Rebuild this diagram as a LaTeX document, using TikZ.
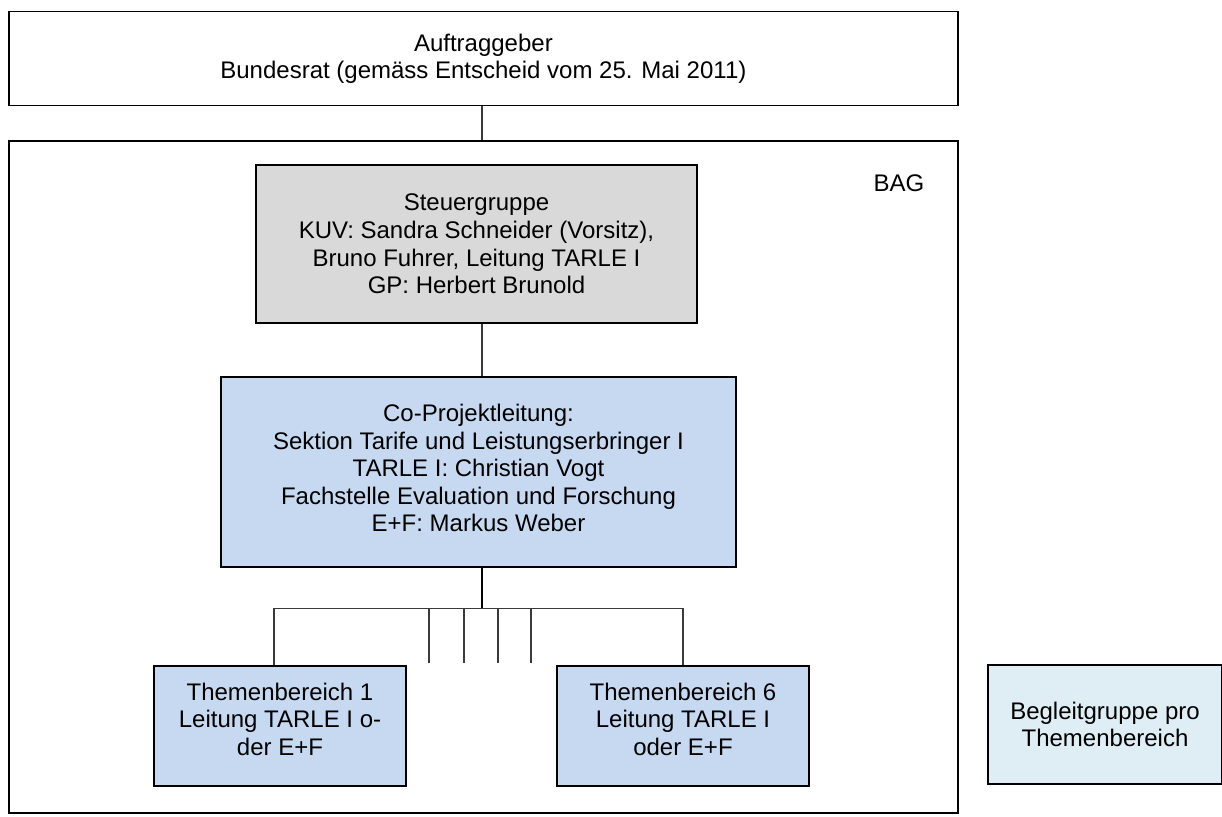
\documentclass[tikz,border=0pt]{standalone}
\usepackage{fontspec}
\setmainfont{Liberation Sans}
\usepackage{xcolor}
\definecolor{grau}{HTML}{D9D9D9}
\definecolor{hellblau}{HTML}{C6D9F1}
\definecolor{eisblau}{HTML}{DFEEF4}
\definecolor{strich}{HTML}{3A3A3A}

\begin{document}
\begin{tikzpicture}[x=0.5pt,y=-0.5pt,
  box/.style={draw,black,inner sep=0pt,align=center,font=\fontsize{12}{13.8}\selectfont},
  conn/.style={strich,line width=0.55pt}]
\def\tw{126pt}
\def\th{60pt}
\useasboundingbox (0,0) rectangle (1222,816);
%\draw[red] (0,0) rectangle (1222,816);
\node [box, line width=0.65pt, minimum width=474.5pt, minimum height=46.9pt, name=auftrag] at (483.4,58.6) {Auftraggeber\\Bundesrat (gemäss Entscheid vom 25. Mai 2011)};
\node [box, line width=0.65pt, minimum width=474.5pt, minimum height=336pt, name=bag]   at (483.4,477) {};
\node [font=\fontsize{12}{13.8}\selectfont, inner sep=0pt, name=baglabel] at (899,183) {BAG};
\node [box, line width=0.75pt, fill=grau, minimum width=220.5pt, minimum height=79pt, name=steuer] at (476.5,244) {Steuergruppe\\KUV: Sandra Schneider (Vorsitz),\\Bruno Fuhrer, Leitung TARLE I\\GP: Herbert Brunold};
\node [box, line width=0.75pt, fill=hellblau, minimum width=257.5pt, minimum height=95pt, text depth=4pt, name=coproj] at (478.5,472) {Co-Projektleitung:\\Sektion Tarife und Leistungserbringer I\\TARLE I: Christian Vogt\\Fachstelle Evaluation und Forschung\\E+F: Markus Weber};
\node [box, line width=1pt, fill=hellblau, minimum width=\tw, minimum height=\th, text depth=7pt, name=tb1] at (280,726) {Themenbereich 1\\Leitung TARLE I o-\\der E+F};
\node [box, line width=1pt, fill=hellblau, minimum width=\tw, minimum height=\th, text depth=7pt, name=tb6] at (683,726) {Themenbereich 6\\Leitung TARLE I\\oder E+F};
\node [box, line width=0.75pt, fill=eisblau, minimum width=117pt, minimum height=59.5pt, name=begleit] at (1105,724.5) {Begleitgruppe pro\\Themenbereich};
\coordinate (hub) at (482,608.5);
\draw [conn] (auftrag.south -| hub) -- (bag.north -| hub);
\draw [conn] (steuer.south -| hub) -- (coproj.north -| hub);
\draw [black, line width=0.8pt] (coproj.south -| hub) -- (hub);
\draw [conn] ([xshift=-3pt]tb1.north) -- ([xshift=-3pt]tb1.north |- hub) -- (tb6.north |- hub) -- (tb6.north);
\foreach \tx [count=\i] in {429,464,498,531}
  {\coordinate (t\i) at (\tx,608.5);
   \draw [conn] (t\i) -- ([yshift=1pt]t\i |- tb1.north);}
\end{tikzpicture}
\end{document}
